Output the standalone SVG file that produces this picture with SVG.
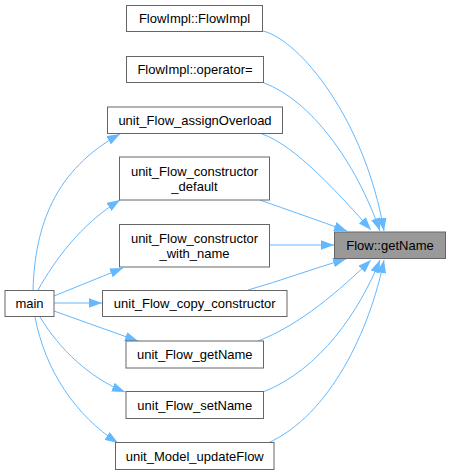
<svg xmlns="http://www.w3.org/2000/svg" width="451" height="475" viewBox="0 0 451 475">
<style>
.node rect{fill:#ffffff;stroke:#666666;stroke-width:1}
.node.hl rect{fill:#999999}
.node text{font-family:"Liberation Sans",Arial,sans-serif;font-size:13px;fill:#000000;text-anchor:middle}
.edges path{fill:none;stroke:#63b8ff;stroke-width:1;marker-end:url(#arr)}
</style>
<defs>
<marker id="arr" viewBox="0 0 13 9.4" refX="13" refY="4.7" markerWidth="13" markerHeight="9.4" markerUnits="userSpaceOnUse" orient="auto">
<path d="M0,0 L13,4.7 L0,9.4 z" fill="#63b8ff" stroke="none"/>
</marker>
</defs>
<rect width="451" height="475" fill="#ffffff"/>
<g class="edges" id="edges">
<path d="M263,31 C300,40 365,120 384,231"/>
<path d="M264,83 C310,100 355,160 380,231"/>
<path d="M262,134 C295,145 340,195 371,230"/>
<path d="M260,200 C285,209 320,221 347,231"/>
<path d="M269,245 L334,245"/>
<path d="M248,290 C280,281 315,268 346,259"/>
<path d="M258,341 C300,325 340,290 371,260"/>
<path d="M263,392 C320,370 360,310 380,260"/>
<path d="M268,443 C330,415 370,330 384,260"/>
<path d="M33,290 C35,225 55,170 120,134"/>
<path d="M38,290 C55,260 80,225 120,200"/>
<path d="M54,296 L123,268"/>
<path d="M54,303 L102,303"/>
<path d="M54,311 L138,341"/>
<path d="M40,317 C60,350 90,378 125,392"/>
<path d="M35,317 C45,370 75,415 118,443"/>
</g>
<g class="node" id="n_flowimpl_ctor"><rect x="126.5" y="5.5" width="136" height="26"/><text x="194.5" y="23">FlowImpl::FlowImpl</text></g>
<g class="node" id="n_flowimpl_op"><rect x="126.5" y="56.5" width="137" height="26"/><text x="195" y="74">FlowImpl::operator=</text></g>
<g class="node" id="n_assign"><rect x="107.5" y="107" width="175" height="26.5"/><text x="195" y="125">unit_Flow_assignOverload</text></g>
<g class="node" id="n_ctor_default"><rect x="119.5" y="157" width="150" height="43"/><text x="194.5" y="175.5">unit_Flow_constructor</text><text x="194.5" y="190.5">_default</text></g>
<g class="node" id="n_ctor_name"><rect x="119.5" y="224.5" width="150" height="42.5"/><text x="194.5" y="243">unit_Flow_constructor</text><text x="194.5" y="258">_with_name</text></g>
<g class="node hl" id="n_getname"><rect x="334.5" y="232" width="111" height="26.5"/><text x="390" y="249.5">Flow::getName</text></g>
<g class="node" id="n_main"><rect x="5" y="290.5" width="49" height="26"/><text x="29.5" y="308">main</text></g>
<g class="node" id="n_copy"><rect x="102.5" y="290.5" width="184.5" height="26"/><text x="194.75" y="308">unit_Flow_copy_constructor</text></g>
<g class="node" id="n_ugetname"><rect x="126" y="341" width="137.5" height="27"/><text x="194.75" y="359">unit_Flow_getName</text></g>
<g class="node" id="n_usetname"><rect x="126" y="391.5" width="137.5" height="27"/><text x="194.75" y="409.5">unit_Flow_setName</text></g>
<g class="node" id="n_update"><rect x="115.5" y="442.5" width="158.5" height="27"/><text x="194.75" y="460.5">unit_Model_updateFlow</text></g>
</svg>
